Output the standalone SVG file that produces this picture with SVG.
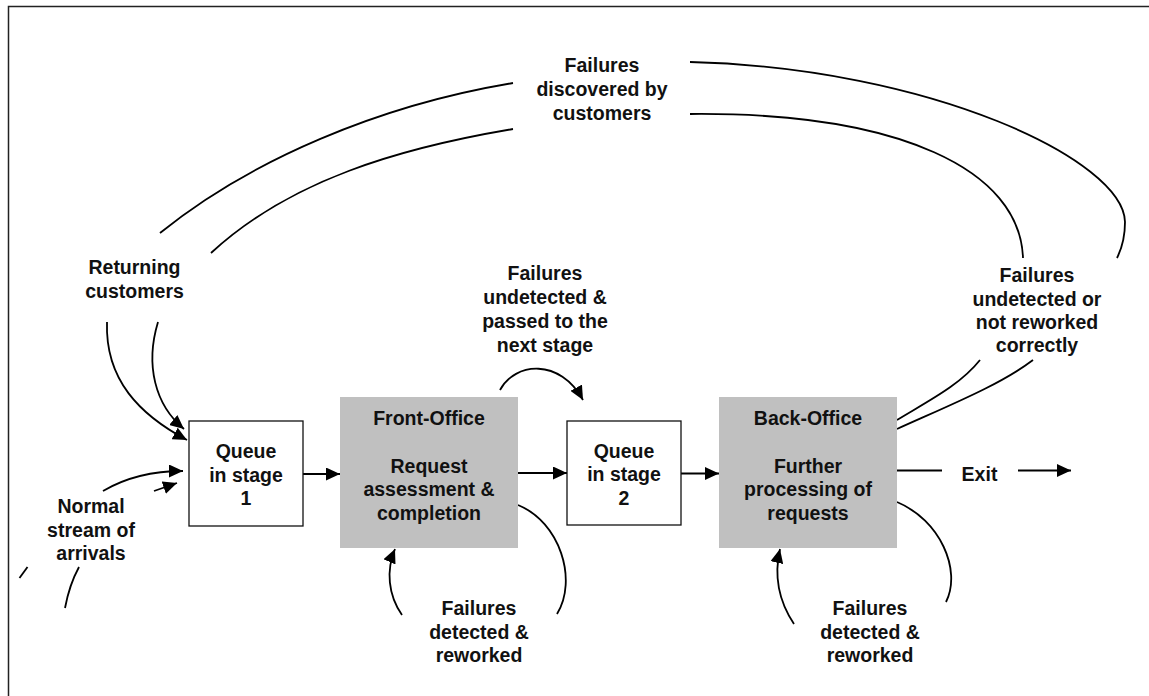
<svg xmlns="http://www.w3.org/2000/svg" width="1149" height="696" viewBox="0 0 1149 696">
  <style>
    text { font-family: "Liberation Sans", Arial, sans-serif; font-weight: bold; font-size: 19.5px; fill: #111; text-anchor: middle; }
    .queue { fill: #fff; stroke: #111; stroke-width: 1.3; }
    .office { fill: #c0c0c0; stroke: none; }
    .flow { fill: none; stroke: #000; stroke-width: 1.8; }
    .frame { fill: none; stroke: #222; stroke-width: 1.5; }
  </style>
  <defs>
    <marker id="head" markerUnits="userSpaceOnUse" markerWidth="15" markerHeight="13" refX="14" refY="6.5" orient="auto">
      <path d="M0,0 L14,6.5 L0,13 z" fill="#000"/>
    </marker>
  </defs>

  <rect width="1149" height="696" fill="#fff"/>
  <!-- page frame (left and top edges) -->
  <path class="frame" d="M8.5,696 V6.5 H1149"/>

  <!-- flows between stages -->
  <g id="connectors">
    <!-- returning customers, fed by failures found by customers -->
    <path class="flow" d="M160,233 C250,160 380,105 513,83"/>
    <path class="flow" d="M211,253 C290,180 400,148 513,129"/>
    <path class="flow" d="M690,62 C930,68 1124,160 1125,222 C1125,240 1121,250 1117,258"/>
    <path class="flow" d="M690,114 C900,112 1020,170 1023,258"/>
    <path class="flow" d="M107,322 C105,380 140,415 187,440" marker-end="url(#head)"/>
    <path class="flow" d="M158,322 C145,365 155,405 184,429" marker-end="url(#head)"/>

    <!-- normal stream of arrivals -->
    <path class="flow" d="M103,491 C125,478 150,471 183,471" marker-end="url(#head)"/>
    <path class="flow" d="M154,491 L177,483" marker-end="url(#head)"/>
    <path class="flow" d="M19.5,578 L27.5,567"/>
    <path class="flow" d="M65,608 C68,592 73,578 79,567"/>

    <!-- main line -->
    <path class="flow" d="M303,474 H340" marker-end="url(#head)"/>
    <path class="flow" d="M518,473 H567" marker-end="url(#head)"/>
    <path class="flow" d="M681,473.5 H719" marker-end="url(#head)"/>
    <path class="flow" d="M893,470.5 H942"/>
    <path class="flow" d="M1018,470.5 H1071" marker-end="url(#head)"/>

    <!-- undetected failures passed on -->
    <path class="flow" d="M500,390 C515,362 560,358 583,400" marker-end="url(#head)"/>

    <!-- rework loops -->
    <path class="flow" d="M518,505 C560,522 578,580 557,614"/>
    <path class="flow" d="M402,615 C388,595 386,570 395,549" marker-end="url(#head)"/>
    <path class="flow" d="M897,502 C940,520 962,570 946,602"/>
    <path class="flow" d="M794,624 C778,600 774,575 780,549" marker-end="url(#head)"/>

    <!-- failures leaving the back office -->
    <path class="flow" d="M897,420 C930,400 960,385 980,360"/>
    <path class="flow" d="M897,429 C950,405 1000,385 1033,360"/>
  </g>

  <g id="queue1">
    <rect class="queue" x="189" y="421" width="114" height="105"/>
    <text x="246" y="458">Queue</text>
    <text x="246" y="481.5">in stage</text>
    <text x="246" y="505">1</text>
  </g>

  <g id="front-office">
    <rect class="office" x="340" y="397" width="178" height="151"/>
    <text x="429" y="425">Front-Office</text>
    <text x="429" y="472.5">Request</text>
    <text x="429" y="496">assessment &amp;</text>
    <text x="429" y="519.5">completion</text>
  </g>

  <g id="queue2">
    <rect class="queue" x="567" y="421" width="114" height="104"/>
    <text x="624" y="457.5">Queue</text>
    <text x="624" y="481">in stage</text>
    <text x="624" y="504.5">2</text>
  </g>

  <g id="back-office">
    <rect class="office" x="719" y="397" width="178" height="151"/>
    <text x="808" y="425">Back-Office</text>
    <text x="808" y="472.5">Further</text>
    <text x="808" y="496">processing of</text>
    <text x="808" y="519.5">requests</text>
  </g>

  <g id="exit">
    <text x="979.5" y="480.5">Exit</text>
  </g>

  <g id="customer-failures">
    <text x="602" y="72">Failures</text>
    <text x="602" y="96">discovered by</text>
    <text x="602" y="120">customers</text>
  </g>

  <g id="returning">
    <text x="134.5" y="274">Returning</text>
    <text x="134.5" y="297.5">customers</text>
  </g>

  <g id="arrivals">
    <text x="91" y="513">Normal</text>
    <text x="91" y="536.5">stream of</text>
    <text x="91" y="560">arrivals</text>
  </g>

  <g id="passed-on">
    <text x="545" y="280">Failures</text>
    <text x="545" y="304">undetected &amp;</text>
    <text x="545" y="328">passed to the</text>
    <text x="545" y="351.5">next stage</text>
  </g>

  <g id="escaped">
    <text x="1037" y="282">Failures</text>
    <text x="1037" y="305.5">undetected or</text>
    <text x="1037" y="328.5">not reworked</text>
    <text x="1037" y="351.5">correctly</text>
  </g>

  <g id="front-rework">
    <text x="479" y="615">Failures</text>
    <text x="479" y="638.5">detected &amp;</text>
    <text x="479" y="662">reworked</text>
  </g>

  <g id="back-rework">
    <text x="870" y="615">Failures</text>
    <text x="870" y="638.5">detected &amp;</text>
    <text x="870" y="662">reworked</text>
  </g>
</svg>
